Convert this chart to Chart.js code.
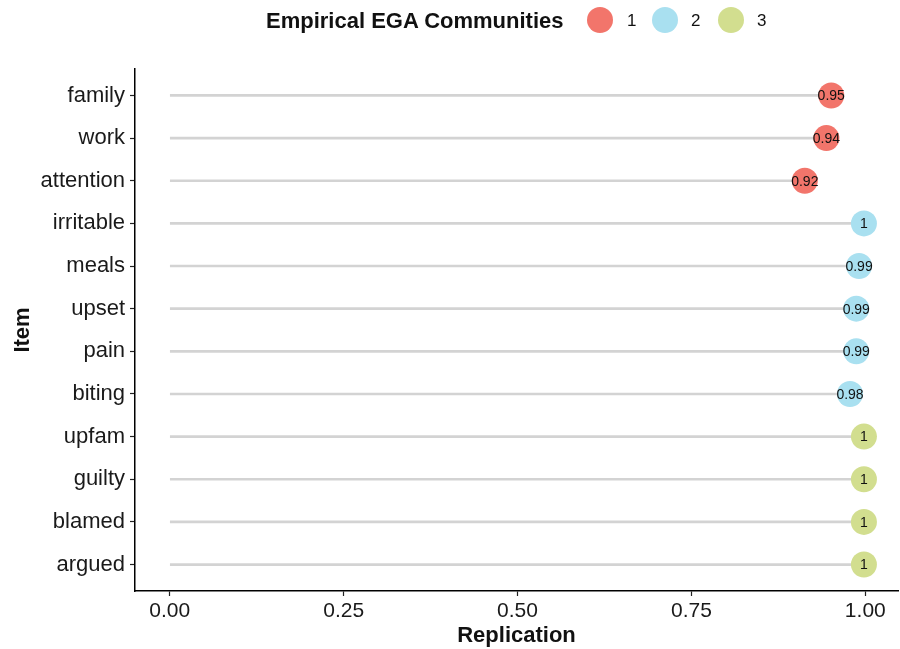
<!DOCTYPE html>
<html><head><meta charset="utf-8">
<script src="https://cdn.jsdelivr.net/npm/chart.js@4.4.1/dist/chart.umd.min.js"></script>
<style>
html,body{margin:0;padding:0;background:#fff;}
#wrap{position:relative;width:900px;height:649px;}
#legend{position:absolute;top:0;left:0;width:900px;height:40px;font-family:"Liberation Sans",Arial,sans-serif;color:#111;}
#legend span{position:absolute;}
#legend .t{font-weight:bold;font-size:22px;left:266px;top:8px;white-space:nowrap;}
#legend .c{width:26px;height:26px;border-radius:50%;top:7px;}
#legend .l{font-size:17px;top:11px;}
</style></head>
<body><div id="wrap"><canvas id="c" width="900" height="649"></canvas>
<div id="legend"></div></div>
<script>
const items = ["family","work","attention","irritable","meals","upset","pain","biting","upfam","guilty","blamed","argued"];
const replication = [0.951,0.944,0.913,0.998,0.991,0.987,0.987,0.978,0.998,0.998,0.998,0.998];
const labels = ["0.95","0.94","0.92","1","0.99","0.99","0.99","0.98","1","1","1","1"];
const community = [1,1,1,2,2,2,2,2,3,3,3,3];
const communityNames = ["1","2","3"];
const colors = ["#F2756B","#A9E0F0","#D2DE8F"];
const xTicks = [0,0.25,0.5,0.75,1];

const FONT = "'Liberation Sans', Arial, sans-serif";

// legend (HTML)
const lg = document.getElementById('legend');
const circX = [587,652,718];
const labX = [627,691,757];
lg.innerHTML = '<span class="t">Empirical EGA Communities</span>' +
  communityNames.map((n,i)=>`<span class="c" style="left:${circX[i]}px;background:${colors[i]}"></span><span class="l" style="left:${labX[i]}px">${n}</span>`).join('');

const stemData = items.map((it,i)=>({x:[0,replication[i]], y:i}));
const pointSets = communityNames.map((n,ci)=>({
  type:'scatter',
  label:n,
  data: items.map((it,i)=>({x:replication[i], y:i, lab:labels[i], comm:community[i]})).filter(d=>d.comm===ci+1),
  backgroundColor: colors[ci],
  borderWidth:0,
  pointRadius:13,
  pointHoverRadius:13,
  clip:false,
  order:0
}));

const labelPlugin = {
  id:'pointLabels',
  afterDatasetsDraw(chart){
    const ctx = chart.ctx;
    ctx.save();
    ctx.font = "14px " + FONT;
    ctx.fillStyle = "#111";
    ctx.textAlign = "center";
    ctx.textBaseline = "middle";
    chart.data.datasets.forEach((ds,di)=>{
      if (ds.type!=='scatter') return;
      const meta = chart.getDatasetMeta(di);
      meta.data.forEach((el,k)=>{
        ctx.fillText(ds.data[k].lab, el.x, el.y+1);
      });
    });
    ctx.restore();
  }
};

new Chart(document.getElementById('c'), {
  type:'bar',
  data:{
    datasets:[
      {type:'bar', label:'stem', data:stemData, backgroundColor:'#d3d3d3', barThickness:2, order:1, indexAxis:'y'},
      ...pointSets
    ]
  },
  options:{
    indexAxis:'y',
    responsive:false,
    animation:false,
    events:[],
    layout:{autoPadding:false, padding:{top:69,left:0,right:2,bottom:0}},
    plugins:{legend:{display:false}, tooltip:{enabled:false}},
    scales:{
      x:{
        type:'linear', min:-0.05, max:1.047, offset:false,
        afterBuildTicks(ax){ ax.ticks = xTicks.map(v=>({value:v})); },
        afterFit(ax){ ax.height = 58; ax.paddingLeft = 0; ax.paddingRight = 0; },
        ticks:{callback:v=>Number(v).toFixed(2), font:{family:FONT,size:21}, color:'#1a1a1a', padding:3, maxRotation:0},
        grid:{drawOnChartArea:false, offset:false, drawTicks:true, tickLength:5, color:'#222', tickWidth:1.2},
        border:{display:true, color:'#000', width:1.5},
        title:{display:true, text:'Replication', font:{family:FONT,size:22,weight:'bold'}, color:'#111', padding:{top:0,bottom:0}}
      },
      y:{
        type:'linear', reverse:true, min:-0.62, max:11.62, offset:false,
        afterBuildTicks(ax){ ax.ticks = items.map((_,i)=>({value:i})); },
        afterFit(ax){ ax.width = 135; ax.paddingTop = 0; ax.paddingBottom = 0; },
        ticks:{callback:(v)=>items[v], font:{family:FONT,size:22}, color:'#1a1a1a', padding:5, autoSkip:false},
        grid:{drawOnChartArea:false, offset:false, drawTicks:true, tickLength:5, color:'#222', tickWidth:1.2},
        border:{display:true, color:'#000', width:1.5},
        title:{display:true, text:'Item', font:{family:FONT,size:22,weight:'bold'}, color:'#111', padding:{top:10,bottom:0}}
      }
    }
  },
  plugins:[labelPlugin]
});
</script></body></html>
